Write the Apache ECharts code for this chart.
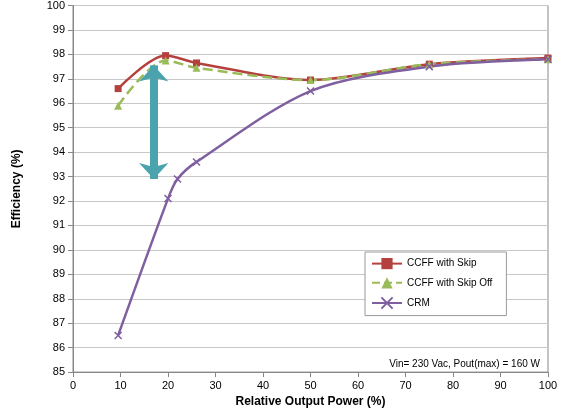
<!DOCTYPE html>
<html><head><meta charset="utf-8">
<script src="https://cdn.jsdelivr.net/npm/echarts@6/dist/echarts.min.js"></script>
<style>html,body{margin:0;padding:0;background:#fff}#c{width:566px;height:413px}</style>
</head><body><div id="c"></div>
<script>
var skipOn = [[9.5,96.6],[19.5,97.95],[26,97.65],[50,96.95],[75,97.6],[100,97.85]];
var skipOff = [[9.5,95.9],[19.5,97.75],[26,97.45],[50,96.95],[75,97.6],[100,97.8]];
var crm = [[9.5,86.5],[20,92.1],[22,92.9],[26,93.6],[50,96.5],[75,97.5],[100,97.8]];
var arrowEnds = [[17,97.55],[17,92.9]];
var note = 'Vin= 230 Vac, Pout(max) = 160 W';

var chart = echarts.init(document.getElementById('c'));
chart.setOption({
  animation: false,
  textStyle: {fontFamily: 'Liberation Sans, Arial'},
  grid: {left: 73, right: 18, top: 5, bottom: 35, show: true, borderColor: '#888', borderWidth: 1},
  xAxis: {type: 'value', min: 0, max: 100, interval: 10,
    name: 'Relative Output Power (%)', nameLocation: 'middle', nameGap: 22,
    nameTextStyle: {fontWeight: 'bold', fontSize: 12, color: '#000'},
    axisLine: {lineStyle: {color: '#888'}}, axisTick: {show: true, inside: false},
    axisLabel: {color: '#000', fontSize: 11}, splitLine: {show: false}},
  yAxis: {type: 'value', min: 85, max: 100, interval: 1,
    name: 'Efficiency (%)', nameLocation: 'middle', nameGap: 50,
    nameTextStyle: {fontWeight: 'bold', fontSize: 12, color: '#000'},
    axisLine: {show: true, lineStyle: {color: '#888'}}, axisTick: {show: true},
    axisLabel: {color: '#000', fontSize: 11}, splitLine: {lineStyle: {color: '#c8c8c8'}}},
  legend: {orient: 'vertical', left: 365, top: 252, itemGap: 8, itemWidth: 30,
    backgroundColor: '#fff', borderColor: '#999', borderWidth: 1, padding: [6, 14, 6, 6],
    textStyle: {fontSize: 10, color: '#000'},
    data: ['CCFF with Skip', 'CCFF with Skip Off', 'CRM']},
  graphic: [{type: 'text', right: 26, bottom: 44,
    style: {text: note, fontSize: 10, fill: '#000', fontFamily: 'Liberation Sans, Arial'}}],
  series: [
    {name: 'CCFF with Skip', type: 'line', data: skipOn, smooth: 0.3,
     symbol: 'rect', symbolSize: 7, color: '#b5413e', lineStyle: {width: 2.5}},
    {name: 'CCFF with Skip Off', type: 'line', data: skipOff, smooth: 0.3,
     symbol: 'triangle', symbolSize: 8, color: '#9bbb59', lineStyle: {width: 2.5, type: 'dashed'}},
    {name: 'CRM', type: 'line', data: crm, smooth: 0.3,
     symbol: 'path://M0,0L10,10M10,0L0,10', symbolSize: 7, color: '#7f5f9f',
     itemStyle: {borderColor: '#7f5f9f', borderWidth: 1.5}, lineStyle: {width: 2.5},
     markLine: {silent: true, symbol: ['arrow', 'arrow'], symbolSize: [22, 16],
       label: {show: false},
       lineStyle: {color: '#4aa3ad', width: 8, type: 'solid', opacity: 1},
       data: [[{coord: arrowEnds[0]}, {coord: arrowEnds[1]}]]}}
  ]
});
</script></body></html>
